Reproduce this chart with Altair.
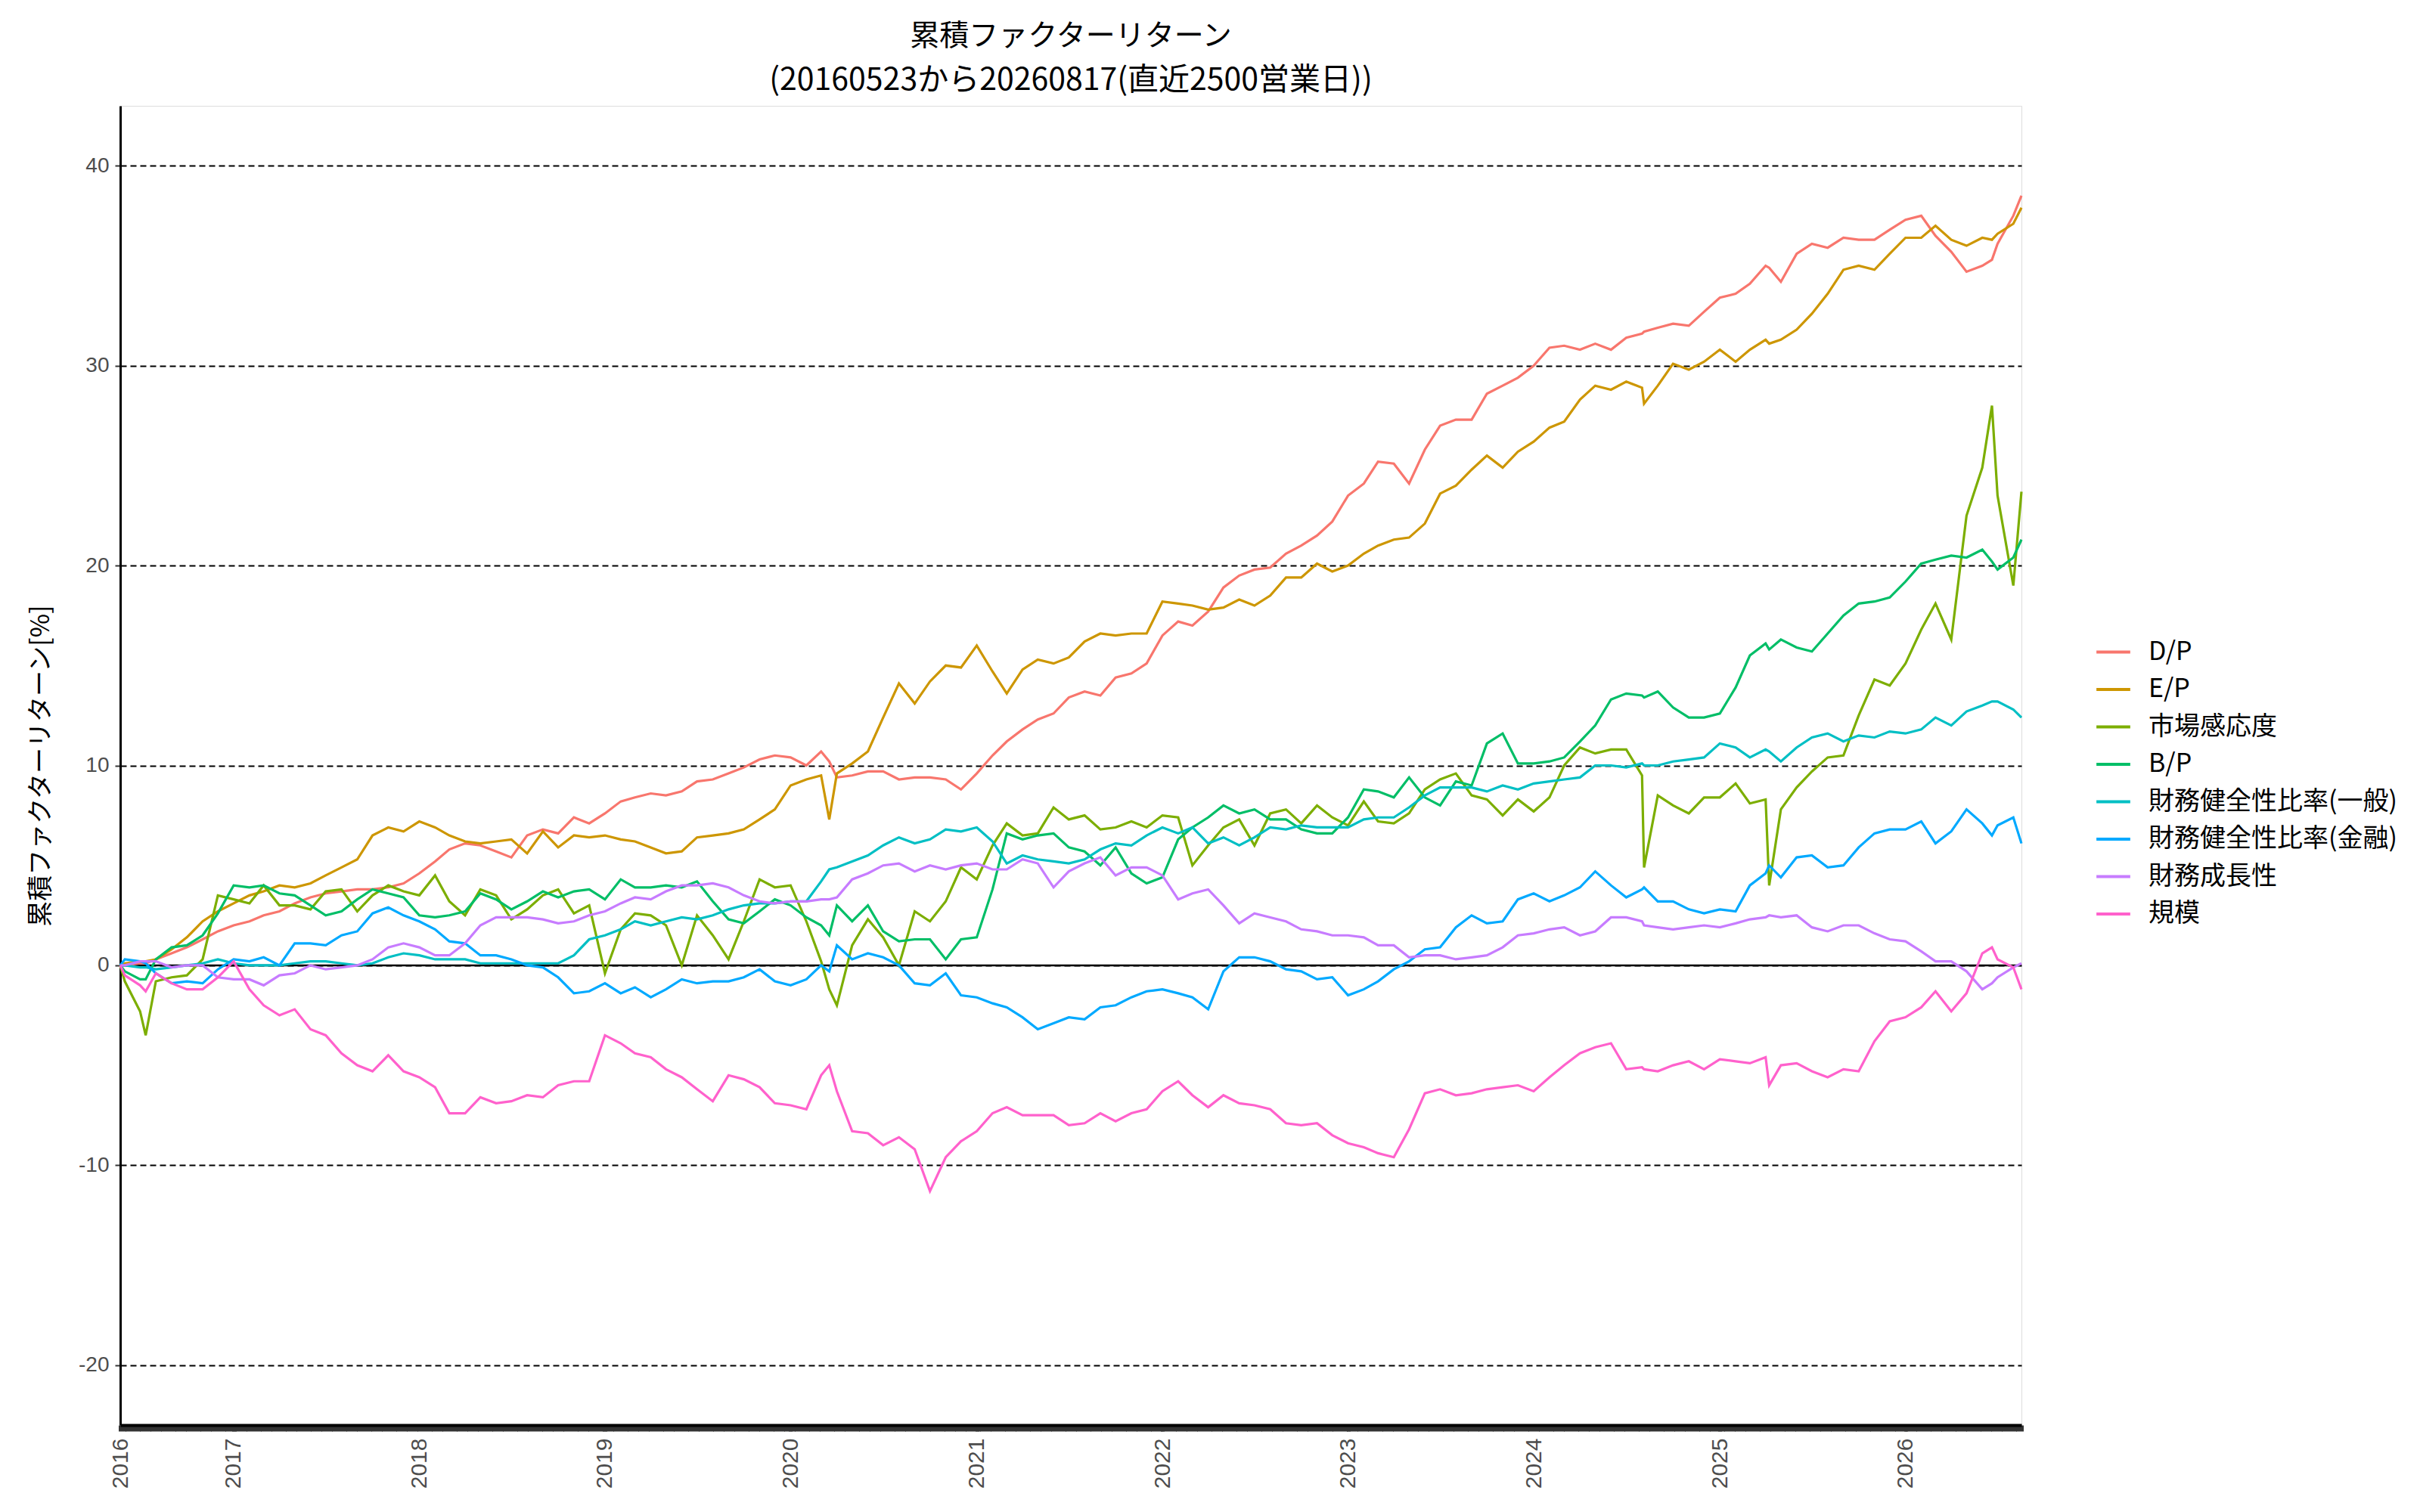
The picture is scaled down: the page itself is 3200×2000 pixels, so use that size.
import altair as alt
import pandas as pd

# ---------------- data ----------------
DATES = [
    "2016-05-23", "2016-06-01", "2016-07-01", "2016-07-12", "2016-08-01", "2016-09-01", "2016-10-01", "2016-11-01", "2016-12-01",
    "2017-01-01", "2017-02-01", "2017-03-01", "2017-04-01", "2017-05-01", "2017-06-01", "2017-07-01", "2017-08-01", "2017-09-01", "2017-10-01", "2017-11-01", "2017-12-01",
    "2018-01-01", "2018-02-01", "2018-03-01", "2018-04-01", "2018-05-01", "2018-06-01", "2018-07-01", "2018-08-01", "2018-09-01", "2018-10-01", "2018-11-01", "2018-12-01",
    "2019-01-01", "2019-02-01", "2019-03-01", "2019-04-01", "2019-05-01", "2019-06-01", "2019-07-01", "2019-08-01", "2019-09-01", "2019-10-01", "2019-11-01", "2019-12-01",
    "2020-01-01", "2020-02-01", "2020-03-01", "2020-03-17", "2020-04-01", "2020-05-01", "2020-06-01", "2020-07-01", "2020-08-01", "2020-09-01", "2020-10-01", "2020-11-01", "2020-12-01",
    "2021-01-01", "2021-02-01", "2021-03-01", "2021-04-01", "2021-05-01", "2021-06-01", "2021-07-01", "2021-08-01", "2021-09-01", "2021-10-01", "2021-11-01", "2021-12-01",
    "2022-01-01", "2022-02-01", "2022-03-01", "2022-04-01", "2022-05-01", "2022-06-01", "2022-07-01", "2022-08-01", "2022-09-01", "2022-10-01", "2022-11-01", "2022-12-01",
    "2023-01-01", "2023-02-01", "2023-03-01", "2023-04-01", "2023-05-01", "2023-06-01", "2023-07-01", "2023-08-01", "2023-09-01", "2023-10-01", "2023-11-01", "2023-12-01",
    "2024-01-01", "2024-02-01", "2024-03-01", "2024-04-01", "2024-05-01", "2024-06-01", "2024-07-01", "2024-08-01", "2024-08-05", "2024-09-01", "2024-10-01", "2024-11-01", "2024-12-01",
    "2025-01-01", "2025-02-01", "2025-03-01", "2025-04-01", "2025-04-08", "2025-05-01", "2025-06-01", "2025-07-01", "2025-08-01", "2025-09-01", "2025-10-01", "2025-11-01", "2025-12-01",
    "2026-01-01", "2026-02-01", "2026-03-01", "2026-04-01", "2026-05-01", "2026-06-01", "2026-06-20", "2026-07-01", "2026-08-01", "2026-08-17",
]

SERIES = ["D/P", "E/P", "市場感応度", "B/P", "財務健全性比率(一般)", "財務健全性比率(金融)", "財務成長性", "規模"]
COLORS = ["#F8766D", "#CD9600", "#7CAE00", "#00BE67", "#00BFC4", "#00A9FF", "#C77CFF", "#FF61CC"]

DP = [0.0, 0.0, 0.1, 0.1, 0.3, 0.6, 0.9, 1.3, 1.7,
      2.0, 2.2, 2.5, 2.7, 3.1, 3.4, 3.6, 3.7, 3.8, 3.8, 3.9, 4.1,
      4.6, 5.2, 5.8, 6.1, 6.0, 5.7, 5.4, 6.5, 6.8, 6.6, 7.4, 7.1,
      7.6, 8.2, 8.4, 8.6, 8.5, 8.7, 9.2, 9.3, 9.6, 9.9, 10.3, 10.5,
      10.4, 10.0, 10.7, 10.2, 9.4, 9.5, 9.7, 9.7, 9.3, 9.4, 9.4, 9.3, 8.8,
      9.6, 10.5, 11.2, 11.8, 12.3, 12.6, 13.4, 13.7, 13.5, 14.4, 14.6, 15.1,
      16.5, 17.2, 17.0, 17.7, 18.9, 19.5, 19.8, 19.9, 20.6, 21.0, 21.5, 22.2,
      23.5, 24.1, 25.2, 25.1, 24.1, 25.8, 27.0, 27.3, 27.3, 28.6, 29.0, 29.4,
      30.0, 30.9, 31.0, 30.8, 31.1, 30.8, 31.4, 31.6, 31.7, 31.9, 32.1, 32.0, 32.7,
      33.4, 33.6, 34.1, 35.0, 34.9, 34.2, 35.6, 36.1, 35.9, 36.4, 36.3, 36.3, 36.8,
      37.3, 37.5, 36.5, 35.7, 34.7, 35.0, 35.3, 36.1, 37.5, 38.5]

EP = [0.0, 0.1, 0.2, 0.2, 0.3, 0.8, 1.4, 2.2, 2.7,
      3.1, 3.5, 3.7, 4.0, 3.9, 4.1, 4.5, 4.9, 5.3, 6.5, 6.9, 6.7,
      7.2, 6.9, 6.5, 6.2, 6.1, 6.2, 6.3, 5.6, 6.7, 5.9, 6.5, 6.4,
      6.5, 6.3, 6.2, 5.9, 5.6, 5.7, 6.4, 6.5, 6.6, 6.8, 7.3, 7.8,
      9.0, 9.3, 9.5, 7.3, 9.6, 10.1, 10.7, 12.4, 14.1, 13.1, 14.2, 15.0, 14.9,
      16.0, 14.7, 13.6, 14.8, 15.3, 15.1, 15.4, 16.2, 16.6, 16.5, 16.6, 16.6,
      18.2, 18.1, 18.0, 17.8, 17.9, 18.3, 18.0, 18.5, 19.4, 19.4, 20.1, 19.7,
      20.0, 20.6, 21.0, 21.3, 21.4, 22.1, 23.6, 24.0, 24.8, 25.5, 24.9, 25.7,
      26.2, 26.9, 27.2, 28.3, 29.0, 28.8, 29.2, 28.9, 28.1, 29.0, 30.1, 29.8, 30.2,
      30.8, 30.2, 30.8, 31.3, 31.1, 31.3, 31.8, 32.6, 33.6, 34.8, 35.0, 34.8, 35.6,
      36.4, 36.4, 37.0, 36.3, 36.0, 36.4, 36.3, 36.6, 37.1, 37.9]

MKT = [0.0, -0.8, -2.3, -3.5, -0.8, -0.6, -0.5, 0.3, 3.5,
       3.3, 3.1, 4.0, 3.0, 3.0, 2.8, 3.7, 3.8, 2.7, 3.5, 4.0, 3.7,
       3.5, 4.5, 3.2, 2.5, 3.8, 3.5, 2.3, 2.8, 3.5, 3.8, 2.6, 3.0,
       -0.4, 1.8, 2.6, 2.5, 2.0, 0.0, 2.5, 1.5, 0.3, 2.2, 4.3, 3.9,
       4.0, 2.2, 0.2, -1.2, -2.0, 1.0, 2.3, 1.4, 0.0, 2.7, 2.2, 3.2, 4.9,
       4.3, 6.0, 7.1, 6.5, 6.6, 7.9, 7.3, 7.5, 6.8, 6.9, 7.2, 6.9,
       7.5, 7.4, 5.0, 6.0, 6.9, 7.3, 6.0, 7.6, 7.8, 7.1, 8.0, 7.4,
       7.0, 8.2, 7.2, 7.1, 7.6, 8.8, 9.3, 9.6, 8.5, 8.3, 7.5, 8.3,
       7.7, 8.4, 10.0, 10.9, 10.6, 10.8, 10.8, 9.5, 4.9, 8.5, 8.0, 7.6, 8.4,
       8.4, 9.1, 8.1, 8.3, 4.0, 7.8, 8.9, 9.7, 10.4, 10.5, 12.5, 14.3, 14.0,
       15.1, 16.8, 18.1, 16.3, 22.5, 24.9, 28.0, 23.5, 19.0, 23.7]

BP = [0.0, -0.3, -0.7, -0.7, 0.3, 0.9, 1.0, 1.5, 2.6,
      4.0, 3.9, 4.0, 3.6, 3.5, 3.0, 2.5, 2.7, 3.3, 3.8, 3.6, 3.4,
      2.5, 2.4, 2.5, 2.7, 3.6, 3.3, 2.8, 3.2, 3.7, 3.4, 3.7, 3.8,
      3.3, 4.3, 3.9, 3.9, 4.0, 3.9, 4.2, 3.2, 2.3, 2.1, 2.7, 3.3,
      3.0, 2.4, 2.0, 1.5, 3.0, 2.2, 3.0, 1.7, 1.2, 1.3, 1.3, 0.3, 1.3,
      1.4, 3.8, 6.6, 6.3, 6.5, 6.6, 5.9, 5.7, 5.0, 5.9, 4.6, 4.1,
      4.4, 6.3, 6.9, 7.4, 8.0, 7.6, 7.8, 7.3, 7.3, 6.8, 6.6, 6.6,
      7.4, 8.8, 8.7, 8.4, 9.4, 8.4, 8.0, 9.2, 9.0, 11.1, 11.6, 10.1,
      10.1, 10.2, 10.4, 11.2, 12.0, 13.3, 13.6, 13.5, 13.4, 13.7, 12.9, 12.4, 12.4,
      12.6, 13.9, 15.5, 16.1, 15.8, 16.3, 15.9, 15.7, 16.6, 17.5, 18.1, 18.2, 18.4,
      19.2, 20.1, 20.3, 20.5, 20.4, 20.8, 20.2, 19.8, 20.4, 21.3]

FIN_GEN = [0.0, 0.0, -0.1, -0.1, -0.2, -0.1, 0.0, 0.1, 0.3,
           0.1, 0.0, 0.0, 0.0, 0.1, 0.2, 0.2, 0.1, 0.0, 0.1, 0.4, 0.6,
           0.5, 0.3, 0.3, 0.3, 0.1, 0.1, 0.1, 0.1, 0.1, 0.1, 0.5, 1.3,
           1.5, 1.8, 2.2, 2.0, 2.2, 2.4, 2.3, 2.5, 2.8, 3.0, 3.1, 3.1,
           3.2, 3.2, 4.2, 4.8, 4.9, 5.2, 5.5, 6.0, 6.4, 6.1, 6.3, 6.8, 6.7,
           6.9, 6.2, 5.1, 5.5, 5.3, 5.2, 5.1, 5.3, 5.8, 6.1, 6.0, 6.5,
           6.9, 6.6, 6.9, 6.1, 6.4, 6.0, 6.4, 6.9, 6.8, 7.0, 6.9, 6.9,
           6.9, 7.3, 7.4, 7.4, 7.9, 8.5, 8.9, 8.9, 8.9, 8.7, 9.0, 8.8,
           9.1, 9.2, 9.3, 9.4, 10.0, 10.0, 9.9, 10.1, 10.0, 10.0, 10.2, 10.3, 10.4,
           11.1, 10.9, 10.4, 10.8, 10.7, 10.2, 10.9, 11.4, 11.6, 11.2, 11.5, 11.4, 11.7,
           11.6, 11.8, 12.4, 12.0, 12.7, 13.0, 13.2, 13.2, 12.8, 12.4]

FIN_FIN = [0.0, 0.3, 0.2, 0.1, -0.4, -0.9, -0.8, -0.9, -0.2,
           0.3, 0.2, 0.4, 0.0, 1.1, 1.1, 1.0, 1.5, 1.7, 2.6, 2.9, 2.5,
           2.2, 1.8, 1.2, 1.1, 0.5, 0.5, 0.3, 0.0, -0.1, -0.6, -1.4, -1.3,
           -0.9, -1.4, -1.1, -1.6, -1.2, -0.7, -0.9, -0.8, -0.8, -0.6, -0.2, -0.8,
           -1.0, -0.7, 0.0, -0.3, 1.0, 0.3, 0.6, 0.4, 0.0, -0.9, -1.0, -0.4, -1.5,
           -1.6, -1.9, -2.1, -2.6, -3.2, -2.9, -2.6, -2.7, -2.1, -2.0, -1.6, -1.3,
           -1.2, -1.4, -1.6, -2.2, -0.3, 0.4, 0.4, 0.2, -0.2, -0.3, -0.7, -0.6,
           -1.5, -1.2, -0.8, -0.2, 0.2, 0.8, 0.9, 1.9, 2.5, 2.1, 2.2, 3.3,
           3.6, 3.2, 3.5, 3.9, 4.7, 4.0, 3.4, 3.8, 3.9, 3.2, 3.2, 2.8, 2.6,
           2.8, 2.7, 4.0, 4.6, 5.0, 4.4, 5.4, 5.5, 4.9, 5.0, 5.9, 6.6, 6.8,
           6.8, 7.2, 6.1, 6.7, 7.8, 7.1, 6.5, 7.0, 7.4, 6.1]

GROWTH = [0.0, 0.0, 0.2, 0.2, 0.2, -0.1, 0.0, 0.0, -0.6,
          -0.7, -0.7, -1.0, -0.5, -0.4, 0.0, -0.2, -0.1, 0.0, 0.3, 0.9, 1.1,
          0.9, 0.5, 0.5, 1.1, 2.0, 2.4, 2.4, 2.4, 2.3, 2.1, 2.2, 2.5,
          2.7, 3.1, 3.4, 3.3, 3.7, 4.0, 4.0, 4.1, 3.9, 3.5, 3.2, 3.1,
          3.2, 3.2, 3.3, 3.3, 3.4, 4.3, 4.6, 5.0, 5.1, 4.7, 5.0, 4.8, 5.0,
          5.1, 4.8, 4.8, 5.3, 5.1, 3.9, 4.7, 5.1, 5.4, 4.5, 4.9, 4.9,
          4.5, 3.3, 3.6, 3.8, 3.0, 2.1, 2.6, 2.4, 2.2, 1.8, 1.7, 1.5,
          1.5, 1.4, 1.0, 1.0, 0.4, 0.5, 0.5, 0.3, 0.4, 0.5, 0.9, 1.5,
          1.6, 1.8, 1.9, 1.5, 1.7, 2.4, 2.4, 2.2, 2.0, 1.9, 1.8, 1.9, 2.0,
          1.9, 2.1, 2.3, 2.4, 2.5, 2.4, 2.5, 1.9, 1.7, 2.0, 2.0, 1.6, 1.3,
          1.2, 0.7, 0.2, 0.2, -0.3, -1.2, -0.9, -0.6, -0.1, 0.1]

SIZE = [0.0, -0.5, -1.0, -1.3, -0.4, -0.9, -1.2, -1.2, -0.6,
        0.2, -1.2, -2.0, -2.5, -2.2, -3.2, -3.5, -4.4, -5.0, -5.3, -4.5, -5.3,
        -5.6, -6.1, -7.4, -7.4, -6.6, -6.9, -6.8, -6.5, -6.6, -6.0, -5.8, -5.8,
        -3.5, -3.9, -4.4, -4.6, -5.2, -5.6, -6.2, -6.8, -5.5, -5.7, -6.1, -6.9,
        -7.0, -7.2, -5.5, -5.0, -6.3, -8.3, -8.4, -9.0, -8.6, -9.2, -11.3, -9.6, -8.8,
        -8.3, -7.4, -7.1, -7.5, -7.5, -7.5, -8.0, -7.9, -7.4, -7.8, -7.4, -7.2,
        -6.3, -5.8, -6.5, -7.1, -6.5, -6.9, -7.0, -7.2, -7.9, -8.0, -7.9, -8.5,
        -8.9, -9.1, -9.4, -9.6, -8.2, -6.4, -6.2, -6.5, -6.4, -6.2, -6.1, -6.0,
        -6.3, -5.6, -5.0, -4.4, -4.1, -3.9, -5.2, -5.1, -5.2, -5.3, -5.0, -4.8, -5.2,
        -4.7, -4.8, -4.9, -4.6, -6.0, -5.0, -4.9, -5.3, -5.6, -5.2, -5.3, -3.8, -2.8,
        -2.6, -2.1, -1.3, -2.3, -1.4, 0.6, 0.9, 0.3, -0.1, -1.2]

Y_TICKS = [-20, -10, 0, 10, 20, 30, 40]
YEAR_TICKS = ["2017-01-01", "2018-01-01", "2019-01-01", "2020-01-01", "2021-01-01",
              "2022-01-01", "2023-01-01", "2024-01-01", "2025-01-01", "2026-01-01"]
START, END = DATES[0], DATES[-1]

TITLE = "累積ファクターリターン"
SUBTITLE = "(20160523から20260817(直近2500営業日))"
Y_TITLE = "累積ファクターリターン[%]"

# ---------------- build table ----------------
rows = []
for name, vals in zip(SERIES, [DP, EP, MKT, BP, FIN_GEN, FIN_FIN, GROWTH, SIZE]):
    assert len(vals) == len(DATES), (name, len(vals))
    for d, v in zip(DATES, vals):
        rows.append({"date": d, "factor": name, "ret": v})
df = pd.DataFrame(rows)


def ms(s):
    return int(pd.Timestamp(s, tz="UTC").value // 10**6)


start_ms, end_ms = ms(START), ms(END)
# dense tick marks along the bottom (the dark band of the reference)
band = [int(t.value // 10**6) for t in pd.date_range(START, END, freq="7D", tz="UTC")]
tick_values = sorted(set(band) | {ms(s) for s in YEAR_TICKS} | {end_ms})

label_expr = ("(utcmonth(datum.value) == 0 && utcdate(datum.value) == 1) || time(datum.value) == "
              + str(start_ms) + " ? utcFormat(datum.value, '%Y') : ''")

x_enc = alt.X(
    "date:T",
    scale=alt.Scale(domain=[start_ms, end_ms]),
    axis=alt.Axis(
        title=None, values=tick_values, labelExpr=label_expr, grid=False,
        labelAngle=270, labelFont="Liberation Sans", labelFontSize=30, labelColor="#4D4D4D",
        labelOverlap=False, labelFlush=False, labelPadding=9, labelBound=False,
        tickColor="#333333", tickWidth=5, tickSize=8,
        domainColor="black", domainWidth=4,
    ),
)

y_enc = alt.Y(
    "ret:Q",
    scale=alt.Scale(domain=[-23, 43], nice=False, zero=False),
    axis=alt.Axis(
        title=Y_TITLE, values=Y_TICKS,
        labelExpr="datum.value < 0 ? '-' + abs(datum.value) : '' + datum.value",
        labelFont="Liberation Sans", labelFontSize=28, labelColor="#4D4D4D", labelPadding=8,
        tickColor="#333333", tickWidth=2, tickSize=7,
        domainColor="black", domainWidth=3,
        grid=True, gridColor="black", gridDash=[8, 5], gridWidth=2,
        titleFont="Noto Sans CJK JP", titleFontSize=34, titleFontWeight="normal",
        titleColor="black", titlePadding=32,
    ),
)

lines = alt.Chart(df).mark_line(strokeWidth=3.2).encode(
    x=x_enc,
    y=y_enc,
    color=alt.Color(
        "factor:N",
        scale=alt.Scale(domain=SERIES, range=COLORS),
        sort=SERIES,
        legend=alt.Legend(
            title=None, orient="none", legendX=2611, legendY=698,
            symbolType="stroke", symbolSize=2000, symbolStrokeWidth=4,
            labelFont="Noto Sans CJK JP", labelFontSize=34, labelColor="black",
            rowPadding=7.5, labelOffset=22, labelLimit=800, padding=0,
        ),
    ),
    order=alt.Order("date:T"),
)

zero = alt.Chart(pd.DataFrame({"ret": [0]})).mark_rule(color="black", strokeWidth=2.5).encode(
    y=alt.Y("ret:Q")
)

chart = (
    alt.layer(zero, lines)
    .properties(
        width=2514,
        height=1745,
        title=alt.TitleParams(
            TITLE, subtitle=SUBTITLE,
            font="Noto Sans CJK JP", fontSize=39, fontWeight="normal", color="black",
            subtitleFont="Noto Sans CJK JP", subtitleFontSize=41, subtitleColor="black",
            subtitlePadding=19, anchor="middle", frame="group", offset=13,
        ),
        autosize=alt.AutoSizeParams(type="none"),
        padding={"left": 151, "top": 132, "right": 510, "bottom": 100},
    )
    .configure_view(stroke=None)
    .configure(background="white")
)

chart.save("out.html", embed_options={"renderer": "svg", "actions": False})
